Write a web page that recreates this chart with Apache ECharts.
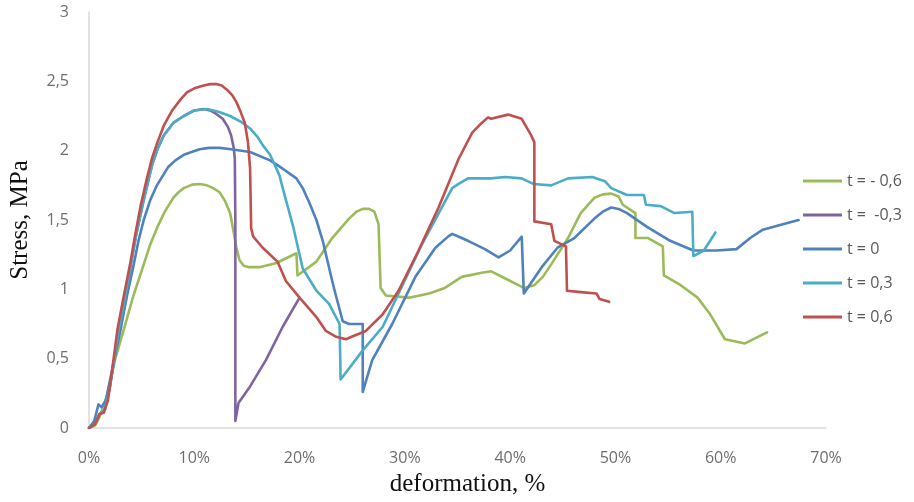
<!DOCTYPE html>
<html>
<head>
<meta charset="utf-8">
<script src="https://cdn.jsdelivr.net/npm/echarts@6/dist/echarts.min.js"></script>
<style>
  html, body { margin: 0; padding: 0; background: #ffffff; }
  #chart { width: 914px; height: 502px; }
</style>
</head>
<body>
<div id="chart"></div>
<script>
// ---- data (x: deformation %, y: stress MPa) ----
const seriesNames = ['t = - 0,6', 't =  -0,3', 't = 0', 't = 0,3', 't = 0,6'];
const seriesColors = ['#9BBB59', '#8064A2', '#4F81BD', '#4BACC6', '#C0504D'];

const tMinus06 = [[0,0],[0.6,0.02],[1.0,0.08],[1.7,0.23],[2.5,0.5],[3.3,0.71],[4.2,0.95],[5.2,1.18],[5.8,1.32],[6.5,1.45],[7.2,1.56],[8,1.66],[8.5,1.70],[9,1.73],[9.8,1.755],[10.5,1.76],[11.2,1.75],[11.8,1.73],[12.4,1.70],[12.9,1.64],[13.4,1.55],[13.7,1.43],[14,1.30],[14.3,1.21],[14.7,1.17],[15.2,1.16],[16.2,1.16],[17.8,1.19],[19.7,1.26],[19.8,1.10],[21.6,1.20],[23.1,1.37],[24.7,1.51],[25.4,1.56],[26,1.58],[26.6,1.58],[27.1,1.56],[27.5,1.47],[27.7,1.01],[28.2,0.955],[30.4,0.94],[32.3,0.97],[33.8,1.01],[35.4,1.09],[37.3,1.12],[38.2,1.13],[39.5,1.08],[41.3,1.01],[42.3,1.03],[43.1,1.09],[43.9,1.18],[45.5,1.37],[46.7,1.55],[48,1.66],[48.8,1.685],[49.6,1.69],[50.3,1.67],[50.7,1.61],[51.9,1.55],[51.9,1.37],[53.1,1.37],[54.5,1.31],[54.6,1.10],[56.2,1.03],[57.8,0.94],[59,0.82],[60.4,0.64],[62.3,0.61],[64.4,0.69]];

const tMinus03 = [[0,0],[0.6,0.03],[1.0,0.1],[1.5,0.13],[2.0,0.3],[2.8,0.7],[3.4,0.93],[3.9,1.15],[4.5,1.4],[5.1,1.62],[6.0,1.9],[6.5,2.01],[7.1,2.11],[8,2.2],[9,2.25],[10,2.29],[10.9,2.30],[11.5,2.29],[12.0,2.27],[12.7,2.23],[13.2,2.17],[13.5,2.11],[13.75,2.02],[13.85,1.94],[13.9,1.5],[13.9,0.05],[14.2,0.18],[15.3,0.30],[16.8,0.49],[18.4,0.73],[20,0.94]];

const t0 = [[0,0],[0.5,0.05],[0.9,0.17],[1.2,0.15],[1.6,0.2],[2.2,0.42],[3.0,0.71],[3.6,0.95],[4.25,1.18],[4.7,1.35],[5.2,1.5],[5.8,1.64],[6.45,1.75],[7.5,1.88],[8.2,1.93],[9,1.97],[10.5,2.01],[11.4,2.02],[12.4,2.02],[13.5,2.01],[15.3,1.99],[17.2,1.93],[18.4,1.87],[19.7,1.80],[20.3,1.73],[20.9,1.63],[21.6,1.5],[22.2,1.35],[23.1,1.06],[23.4,0.97],[24.1,0.77],[24.7,0.75],[26,0.75],[26,0.26],[26.9,0.49],[28.8,0.75],[31,1.09],[32.9,1.30],[34.1,1.38],[34.5,1.40],[35.4,1.37],[36,1.35],[37.6,1.29],[38.9,1.23],[40,1.28],[41.1,1.38],[41.3,0.97],[43,1.16],[44.5,1.30],[46.1,1.37],[48,1.51],[48.8,1.56],[49.6,1.59],[50.3,1.58],[51.1,1.55],[53,1.45],[55.2,1.35],[57.4,1.28],[59.6,1.28],[61.5,1.29],[62.8,1.37],[64,1.43],[65.9,1.47],[67.4,1.50]];

const t03 = [[0,0],[0.6,0.03],[1.0,0.1],[1.5,0.13],[2.0,0.3],[2.8,0.7],[3.4,0.93],[3.9,1.15],[4.5,1.4],[5.2,1.64],[6.0,1.9],[6.5,2.01],[7.1,2.11],[8,2.2],[9,2.25],[10,2.29],[11.2,2.30],[12.3,2.28],[13.4,2.25],[14.4,2.21],[15.3,2.16],[16,2.1],[16.5,2.04],[17.2,1.97],[18.1,1.82],[18.4,1.73],[19.4,1.45],[20.3,1.15],[21.6,0.99],[22.8,0.895],[23.8,0.75],[23.9,0.35],[26,0.56],[27.9,0.73],[29.4,0.97],[31.6,1.32],[33.5,1.59],[34.5,1.73],[35.1,1.76],[36,1.8],[37,1.8],[38.2,1.8],[39.5,1.81],[41.1,1.8],[42.2,1.76],[43.9,1.75],[45.5,1.80],[47.8,1.81],[49,1.78],[49.6,1.73],[51.1,1.68],[52.7,1.68],[52.9,1.61],[54.3,1.60],[55.6,1.55],[57.3,1.56],[57.4,1.24],[58.4,1.28],[59.5,1.41]];

const t06 = [[0,0],[0.6,0.03],[1.0,0.1],[1.4,0.11],[1.8,0.2],[2.2,0.42],[2.7,0.71],[3.3,0.95],[3.9,1.18],[4.4,1.4],[4.9,1.6],[5.5,1.8],[6.0,1.95],[6.5,2.06],[7.1,2.18],[7.9,2.29],[8.7,2.37],[9.3,2.42],[10.0,2.45],[10.9,2.47],[11.5,2.48],[12.1,2.48],[12.6,2.47],[13.1,2.44],[13.6,2.4],[14.0,2.35],[14.4,2.28],[14.8,2.2],[15.1,2.06],[15.3,1.87],[15.4,1.44],[15.6,1.38],[16.5,1.30],[17.9,1.2],[18.7,1.06],[20,0.94],[21.6,0.8],[22.5,0.70],[23.4,0.66],[24.4,0.64],[25,0.66],[26.3,0.70],[27.9,0.82],[29.4,0.99],[31.3,1.28],[33.2,1.59],[35.1,1.94],[36.4,2.13],[37.3,2.2],[37.9,2.24],[38.2,2.23],[39.8,2.26],[41.1,2.23],[42,2.11],[42.3,2.06],[42.3,1.49],[43.9,1.47],[44.2,1.35],[45.3,1.31],[45.4,0.99],[46.7,0.98],[48.2,0.97],[48.5,0.93],[49.4,0.91]];

const allSeries = [tMinus06, tMinus03, t0, t03, t06];

const xTickFormat = v => v + '%';
const yTickFormat = v => String(v).replace('.', ',');

const chart = echarts.init(document.getElementById('chart'), null, { renderer: 'canvas' });

const labelStyle = { color: '#6e6e6e', fontSize: 16, fontFamily: 'Open Sans' };

chart.setOption({
  animation: false,
  backgroundColor: '#ffffff',
  grid: { left: 85, right: 88, top: 12, bottom: 70, containLabel: false },
  legend: {
    orient: 'vertical',
    left: 803,
    top: 171,
    padding: 0,
    icon: 'rect',
    itemWidth: 39,
    itemHeight: 3,
    itemGap: 14,
    textStyle: { color: '#595959', fontSize: 16, fontFamily: 'Open Sans', lineHeight: 20 },
    data: seriesNames
  },
  xAxis: {
    type: 'value',
    min: 0, max: 70, interval: 10,
    name: 'deformation, %',
    nameLocation: 'middle',
    nameGap: 44,
    nameTextStyle: { fontFamily: 'Liberation Serif', fontSize: 25, color: '#111', padding: [0, 0, 0, 20] },
    axisLine: { show: true, lineStyle: { color: '#d9d9d9', width: 1.5 } },
    axisTick: { show: false },
    splitLine: { show: false },
    axisLabel: Object.assign({ formatter: xTickFormat, margin: 22 }, labelStyle)
  },
  yAxis: {
    type: 'value',
    min: 0, max: 3, interval: 0.5,
    name: 'Stress, MPa',
    nameLocation: 'middle',
    nameGap: 56,
    nameTextStyle: { fontFamily: 'Liberation Serif', fontSize: 25, color: '#111' },
    axisLine: { show: true, lineStyle: { color: '#d9d9d9', width: 1.5 } },
    axisTick: { show: false },
    splitLine: { show: false },
    axisLabel: Object.assign({ formatter: yTickFormat, margin: 20 }, labelStyle)
  },
  series: allSeries.map((d, i) => ({
    name: seriesNames[i],
    type: 'line',
    data: d,
    symbol: 'none',
    smooth: false,
    color: seriesColors[i],
    lineStyle: { width: 2.6, color: seriesColors[i], join: 'round', cap: 'round' }
  }))
});
</script>
</body>
</html>
